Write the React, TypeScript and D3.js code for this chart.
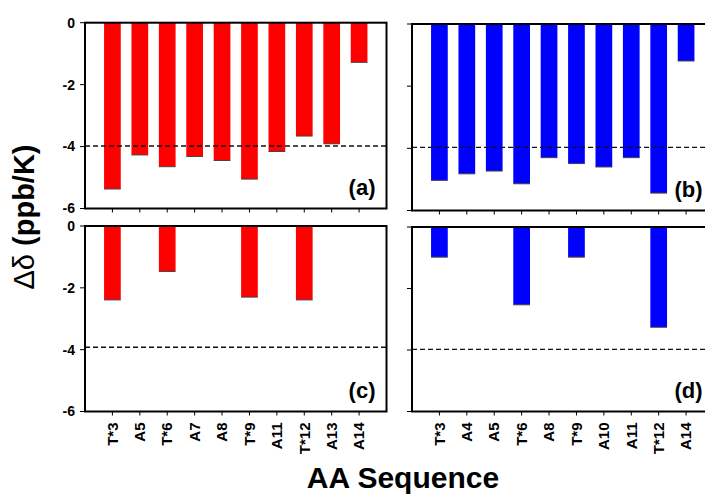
import React from "react";
import * as d3 from "d3";

const catsLeft = ["T*3", "A5", "T*6", "A7", "A8", "T*9", "A11", "T*12", "A13", "A14"];
const catsRight = ["T*3", "A4", "A5", "T*6", "A8", "T*9", "A10", "A11", "T*12", "A14"];

const valuesA = [-5.37, -4.27, -4.65, -4.32, -4.45, -5.05, -4.16, -3.66, -3.91, -1.28];
const valuesB = [-5.03, -4.82, -4.73, -5.14, -4.3, -4.49, -4.6, -4.3, -5.44, -1.19];
const valuesC = [-2.39, 0, -1.47, 0, 0, -2.3, 0, -2.39, 0, 0];
const valuesD = [-0.98, 0, 0, -2.53, 0, -0.98, 0, 0, -3.26, 0];

const yTicks = [0, -2, -4, -6];
const dashedLevels = [-3.98, -3.97, -3.92, -3.98];

type Panel = {
  key: string;
  label: string;
  cats: string[];
  values: number[];
  color: string;
  x0: number;
  x1: number;
  y0: number;
  y1: number;
  showYLabels: boolean;
  showXLabels: boolean;
  dash: number;
};

const panels: Panel[] = [
  { key: "a", label: "(a)", cats: catsLeft, values: valuesA, color: "#ff0000", x0: 85, x1: 386.5, y0: 22.7, y1: 208.5, showYLabels: true, showXLabels: false, dash: dashedLevels[0] },
  { key: "b", label: "(b)", cats: catsRight, values: valuesB, color: "#0000ff", x0: 412, x1: 713.5, y0: 24, y1: 210.5, showYLabels: false, showXLabels: false, dash: dashedLevels[1] },
  { key: "c", label: "(c)", cats: catsLeft, values: valuesC, color: "#ff0000", x0: 85, x1: 386.5, y0: 226, y1: 411.5, showYLabels: true, showXLabels: true, dash: dashedLevels[2] },
  { key: "d", label: "(d)", cats: catsRight, values: valuesD, color: "#0000ff", x0: 412, x1: 713.5, y0: 227, y1: 411.5, showYLabels: false, showXLabels: true, dash: dashedLevels[3] },
];

const FONT = "Liberation Sans, Arial, sans-serif";

function PanelView({ p }: { p: Panel }) {
  const x = d3.scalePoint<string>().domain(p.cats).range([p.x0, p.x1]).padding(1);
  const y = d3.scaleLinear().domain([-6, 0]).range([p.y1, p.y0]);
  const bw = 16.7;
  return (
    <g>
      {p.values.map((v, i) =>
        v === 0 ? null : (
          <g key={i}>
            <rect
              x={(x(p.cats[i]) as number) - bw / 2}
              y={y(0)}
              width={bw}
              height={y(v) - y(0)}
              fill={p.color}
            />
            <line
              x1={(x(p.cats[i]) as number) - bw / 2}
              x2={(x(p.cats[i]) as number) + bw / 2}
              y1={y(v)}
              y2={y(v)}
              stroke="#444"
              strokeWidth={1}
            />
          </g>
        )
      )}
      <line
        x1={p.x0}
        x2={p.x1}
        y1={y(p.dash)}
        y2={y(p.dash)}
        stroke="#111"
        strokeWidth={1.4}
        strokeDasharray="5,3"
      />
      <rect x={p.x0} y={p.y0} width={p.x1 - p.x0} height={p.y1 - p.y0} fill="none" stroke="#000" strokeWidth={2} />
      {yTicks.map((t) => (
        <g key={t}>
          <line x1={p.x0 - 5} x2={p.x0} y1={y(t)} y2={y(t)} stroke="#000" strokeWidth={1} />
          {p.showYLabels && (
            <text
              x={p.x0 - 10}
              y={y(t)}
              dy="0.35em"
              textAnchor="end"
              fontFamily={FONT}
              fontWeight="bold"
              fontSize={14}
              fill="#000"
            >
              {t === 0 ? "0" : String(t)}
            </text>
          )}
        </g>
      ))}
      {p.cats.map((c) => (
        <g key={c}>
          <line x1={x(c)} x2={x(c)} y1={p.y1} y2={p.y1 + 4} stroke="#000" strokeWidth={1} />
          {p.showXLabels && (
            <text
              transform={`translate(${x(c)},${p.y1 + 11}) rotate(-90)`}
              dy="0.35em"
              textAnchor="end"
              fontFamily={FONT}
              fontWeight="bold"
              fontSize={15}
              fill="#000"
            >
              {c}
            </text>
          )}
        </g>
      ))}
      <text
        x={p.x1 - 11}
        y={p.y1 - 14}
        textAnchor="end"
        fontFamily={FONT}
        fontWeight="bold"
        fontSize={22}
        fill="#000"
      >
        {p.label}
      </text>
    </g>
  );
}

export default function App() {
  return (
    <svg
      width={705}
      height={495}
      style={{ position: "absolute", left: 0, top: 0, background: "#fff", display: "block" }}
    >
      <rect x={0} y={0} width={705} height={495} fill="#fff" />
      {panels.map((p) => (
        <PanelView key={p.key} p={p} />
      ))}
      <text
        transform="translate(34,217) rotate(-90)"
        textAnchor="middle"
        fontFamily={FONT}
        fontSize={29}
        fill="#000"
      >
        <tspan fontWeight="normal">Δδ </tspan>
        <tspan fontWeight="bold">(ppb/K)</tspan>
      </text>
      <text
        x={403}
        y={488}
        textAnchor="middle"
        fontFamily={FONT}
        fontWeight="bold"
        fontSize={30}
        fill="#000"
      >
        AA Sequence
      </text>
    </svg>
  );
}
